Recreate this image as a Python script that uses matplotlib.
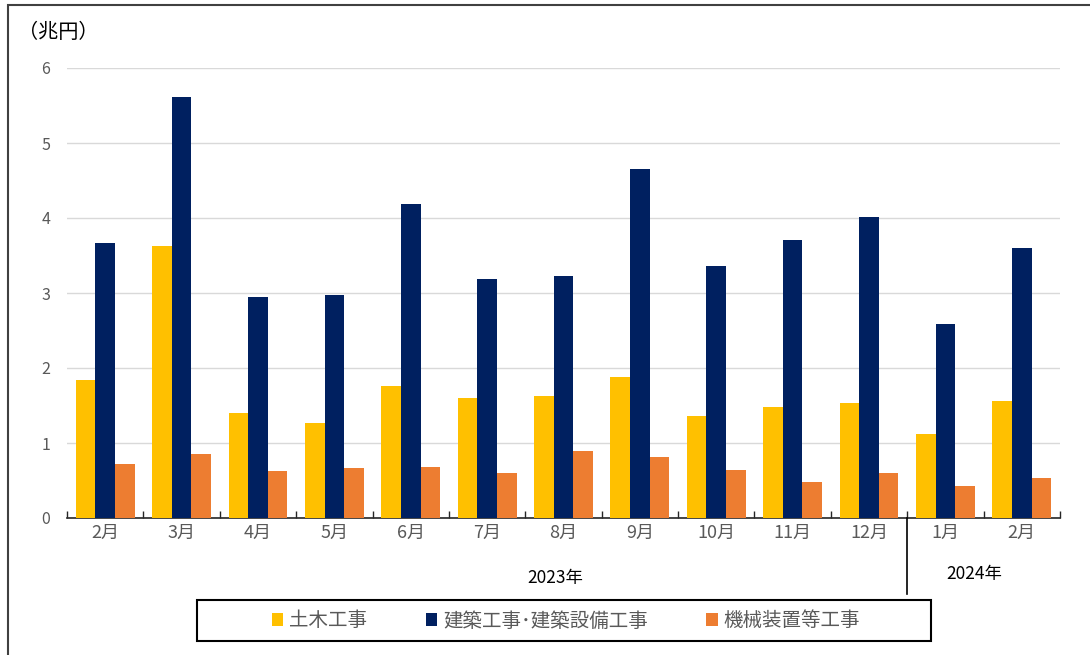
from matplotlib import pyplot as plt
from matplotlib.patches import Rectangle, Patch
from matplotlib.lines import Line2D
import numpy as np

plt.rcParams['font.family'] = ['Noto Sans CJK JP', 'DejaVu Sans']

months = ["2月", "3月", "4月", "5月", "6月", "7月", "8月", "9月", "10月", "11月", "12月", "1月", "2月"]
civil = [1.84, 3.63, 1.40, 1.27, 1.76, 1.60, 1.63, 1.88, 1.36, 1.48, 1.53, 1.12, 1.56]
building = [3.67, 5.61, 2.95, 2.97, 4.19, 3.19, 3.23, 4.65, 3.36, 3.71, 4.01, 2.59, 3.60]
machine = [0.72, 0.85, 0.63, 0.67, 0.68, 0.60, 0.89, 0.81, 0.64, 0.48, 0.60, 0.43, 0.53]
series_names = ["土木工事", "建築工事･建築設備工事", "機械装置等工事"]
colors = ['#FFC000', '#002060', '#ED7D31']

W, H = 1090, 655
fig = plt.figure(figsize=[W / 100, H / 100], dpi=100)
ax = fig.add_axes([67 / W, 1 - 518 / H, (1060 - 67) / W, (518 - 68) / H])

x = np.arange(len(months))
bw = 0.257
for k, vals in enumerate([civil, building, machine]):
  ax.bar(x + (k - 1) * bw, vals, bw, color=colors[k], zorder=3)

ax.set_xlim(-0.5, len(months) - 0.5)
ax.set_ylim(0, 6)
ax.set_yticks(range(7))
ax.grid(axis='y', color='#D9D9D9', lw=1, zorder=0)
for s in ['left', 'right', 'top']:
  ax.spines[s].set_visible(False)
ax.spines['bottom'].set_color('#262626')
ax.spines['bottom'].set_linewidth(1.2)
ax.tick_params(axis='y', length=0, labelsize=11.5, labelcolor='#595959', pad=12)
ax.set_xticks(np.arange(-0.5, len(months), 1))
ax.set_xticklabels([])
ax.tick_params(axis='x', direction='in', length=5, width=1, color='#262626')
for i, m in enumerate(months):
  ax.text(i, -0.2, m, ha='center', va='center', fontsize=13, color='#595959')

# year separator and labels
fig.add_artist(Line2D([907 / W, 907 / W], [1 - 518 / H, 1 - 594 / H], color='black', lw=1.2))
fig.text(555 / W, 1 - 578 / H, "2023年", ha='center', va='center', fontsize=12.5, color='black')
fig.text(974 / W, 1 - 574 / H, "2024年", ha='center', va='center', fontsize=12.5, color='black')
fig.text(58 / W, 1 - 32 / H, "（兆円）", ha='center', va='center', fontsize=14.5, color='black')

# outer frame
fig.add_artist(Rectangle((8 / W, -0.05), 1.1, 1 - 5 / H + 0.05, transform=fig.transFigure,
                         fill=False, edgecolor='#404040', lw=1.5))

# legend box
fig.add_artist(Rectangle((197 / W, 1 - 641 / H), (931 - 197) / W, (641 - 600) / H,
                         transform=fig.transFigure, fill=False, edgecolor='black', lw=1.5))
handles = [Patch(facecolor=c, edgecolor='none') for c in colors]
leg = fig.legend(handles, series_names, loc='center', bbox_to_anchor=(566 / W, 1 - 621 / H),
                 ncol=3, frameon=False, fontsize=14, handlelength=0.6, handleheight=0.6,
                 handletextpad=0.3, columnspacing=3.0)
for t in leg.get_texts():
  t.set_color('#595959')

fig.savefig("out.png", dpi=100)
